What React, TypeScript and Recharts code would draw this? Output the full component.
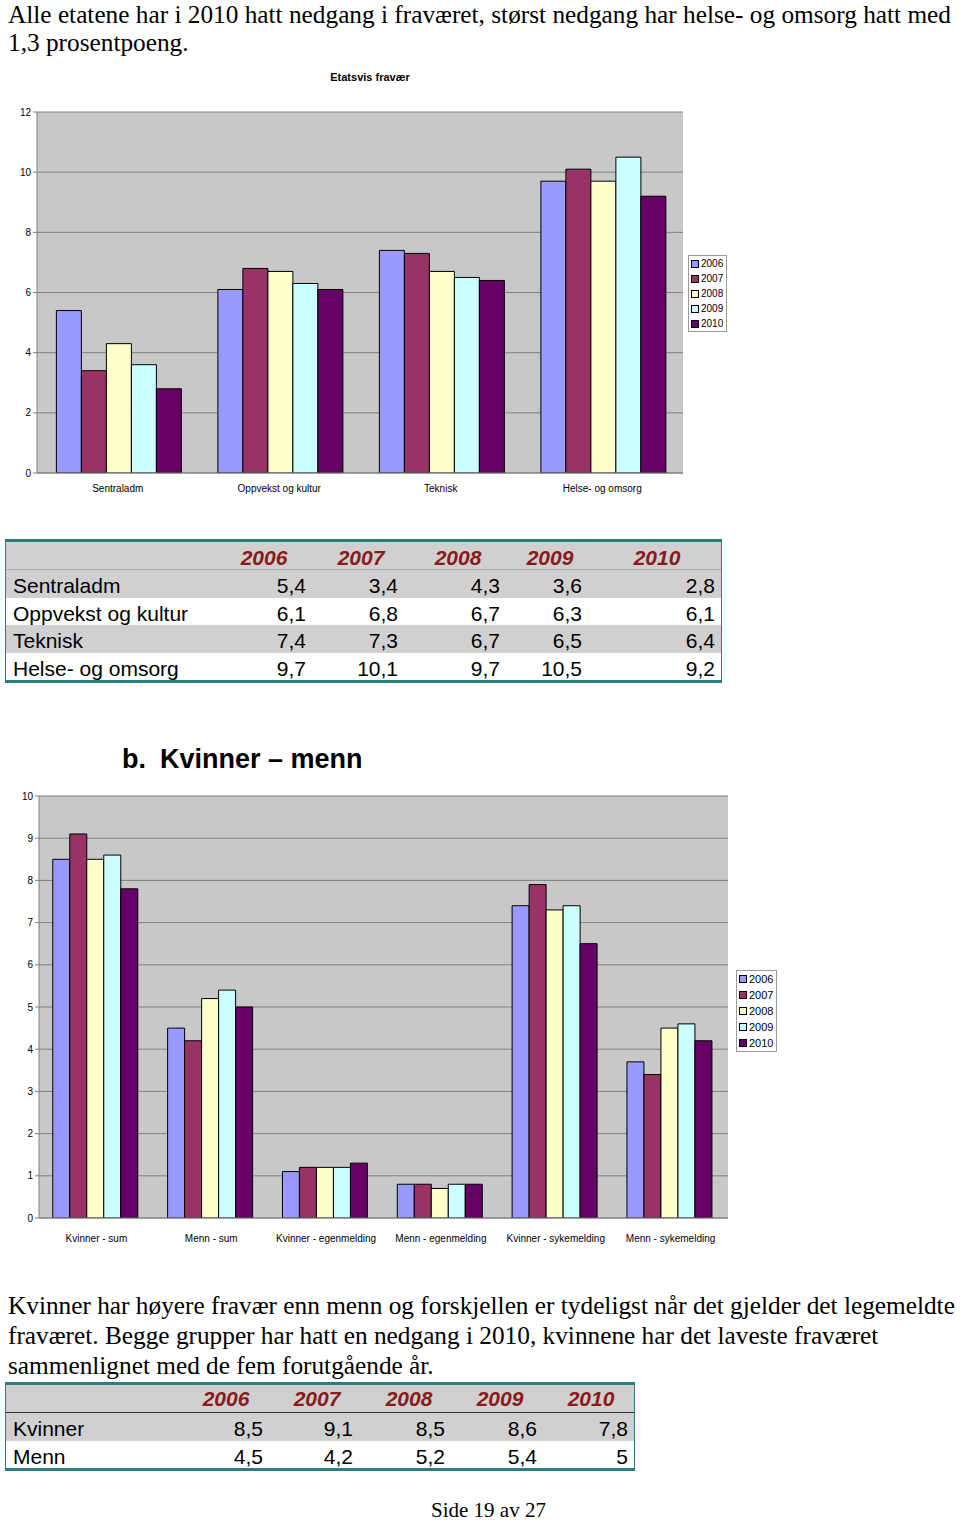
import React from "react";
import { Bar, BarChart, CartesianGrid, Legend, XAxis, YAxis } from "recharts";

const YEARS = ["2006", "2007", "2008", "2009", "2010"];
const COLORS = ["#9999FF", "#993366", "#FFFFCC", "#CCFFFF", "#660066"];

// Etatsvis fravær
const ETATER = ["Sentraladm", "Oppvekst og kultur", "Teknisk", "Helse- og omsorg"];
const ETAT_2006 = [5.4, 6.1, 7.4, 9.7];
const ETAT_2007 = [3.4, 6.8, 7.3, 10.1];
const ETAT_2008 = [4.3, 6.7, 6.7, 9.7];
const ETAT_2009 = [3.6, 6.3, 6.5, 10.5];
const ETAT_2010 = [2.8, 6.1, 6.4, 9.2];
const ETAT_TICKS = [0, 2, 4, 6, 8, 10, 12];

// Kvinner – menn
const KJONN = [
  "Kvinner - sum",
  "Menn - sum",
  "Kvinner - egenmelding",
  "Menn - egenmelding",
  "Kvinner - sykemelding",
  "Menn - sykemelding",
];
const KJONN_2006 = [8.5, 4.5, 1.1, 0.8, 7.4, 3.7];
const KJONN_2007 = [9.1, 4.2, 1.2, 0.8, 7.9, 3.4];
const KJONN_2008 = [8.5, 5.2, 1.2, 0.7, 7.3, 4.5];
const KJONN_2009 = [8.6, 5.4, 1.2, 0.8, 7.4, 4.6];
const KJONN_2010 = [7.8, 5.0, 1.3, 0.8, 6.5, 4.2];
const KJONN_TICKS = [0, 1, 2, 3, 4, 5, 6, 7, 8, 9, 10];
const KJONN_TABLE_ROWS = ["Kvinner", "Menn"];

const SANS = '"Liberation Sans", Arial, sans-serif';
const SERIF = '"Liberation Serif", "Times New Roman", serif';
const TEAL = "#2E7C7C";
const ROW_GRAY = "#D0D0D0";
const YEAR_RED = "#8B1A1A";

const etatSeries = [ETAT_2006, ETAT_2007, ETAT_2008, ETAT_2009, ETAT_2010];
const kjonnSeries = [KJONN_2006, KJONN_2007, KJONN_2008, KJONN_2009, KJONN_2010];

const etatData = ETATER.map((name, i) => {
  const row: Record<string, string | number> = { name };
  YEARS.forEach((y, k) => (row[y] = etatSeries[k][i]));
  return row;
});
const kjonnData = KJONN.map((name, i) => {
  const row: Record<string, string | number> = { name };
  YEARS.forEach((y, k) => (row[y] = kjonnSeries[k][i]));
  return row;
});

const fmt = (v: number) => String(v).replace(".", ",");

function LegendBox({ rowH, fontSize }: { rowH: number; fontSize: number }) {
  return (
    <div
      style={{
        border: "1px solid #9a9a9a",
        background: "#fff",
        padding: "0 3px 0 2px",
        fontFamily: SANS,
        fontSize,
        color: "#000",
      }}
    >
      {YEARS.map((y, i) => (
        <div key={y} style={{ display: "flex", alignItems: "center", height: rowH }}>
          <span
            style={{
              display: "inline-block",
              width: 6,
              height: 6,
              border: "1px solid #000",
              background: COLORS[i],
              marginRight: 2,
            }}
          />
          {y}
        </div>
      ))}
    </div>
  );
}

function GroupedBars({
  data,
  width,
  height,
  margin,
  yWidth,
  domain,
  ticks,
  tickMargin,
  legendPos,
  rowH,
  legendFont,
}: any) {
  const tickStyle = { fill: "#000", fontSize: 10, fontFamily: SANS };
  return (
    <BarChart
      width={width}
      height={height}
      data={data}
      margin={margin}
      barCategoryGap="12%"
      barGap={0}
    >
      <CartesianGrid vertical={false} stroke="#808080" fill="#C8C8C8" fillOpacity={1} />
      <XAxis
        dataKey="name"
        tickLine={false}
        axisLine={{ stroke: "#808080" }}
        tick={tickStyle}
        tickMargin={tickMargin}
        interval={0}
        height={30}
      />
      <YAxis
        domain={domain}
        ticks={ticks}
        width={yWidth}
        tickSize={4}
        tickMargin={2}
        tickLine={{ stroke: "#808080" }}
        axisLine={{ stroke: "#808080" }}
        tick={tickStyle}
        allowDataOverflow
      />
      <YAxis
        yAxisId="frame"
        orientation="right"
        width={0}
        tick={false}
        tickLine={false}
        axisLine={{ stroke: "#808080" }}
      />
      <Legend
        layout="horizontal"
        align="center"
        verticalAlign="middle"
        wrapperStyle={{ left: legendPos[0], top: legendPos[1], width: "auto" }}
        content={() => <LegendBox rowH={rowH} fontSize={legendFont} />}
      />
      {YEARS.map((y, i) => (
        <Bar
          key={y}
          dataKey={y}
          fill={COLORS[i]}
          stroke="#000"
          strokeWidth={1}
          isAnimationActive={false}
        />
      ))}
    </BarChart>
  );
}

function DataTable({
  top,
  width,
  labels,
  values,
  yearCenters,
  valueRights,
  headerLine,
  yearShift,
}: {
  top: number;
  width: number;
  labels: string[];
  values: number[][];
  yearCenters: number[];
  valueRights: number[];
  headerLine: string;
  yearShift: number;
}) {
  const rowH = 27.5;
  const headH = 28;
  const cell = (t: number): React.CSSProperties => ({
    position: "absolute",
    top: t + 3,
    lineHeight: "27px",
    whiteSpace: "nowrap",
    fontFamily: SANS,
    fontSize: 21,
  });
  return (
    <div
      style={{
        position: "absolute",
        left: 5,
        top,
        width,
        height: 3 + headH + labels.length * rowH + 3,
        borderLeft: `1px solid ${TEAL}`,
        borderRight: `1px solid ${TEAL}`,
        boxSizing: "border-box",
      }}
    >
      <div style={{ position: "absolute", left: 0, right: 0, top: 0, height: 3, background: TEAL }} />
      <div
        style={{
          position: "absolute",
          left: 0,
          right: 0,
          top: 3,
          height: headH,
          background: ROW_GRAY,
          borderBottom: `1px solid ${headerLine}`,
          boxSizing: "border-box",
        }}
      />
      {YEARS.map((y, k) => (
        <div
          key={y}
          style={{
            ...cell(yearShift),
            left: yearCenters[k] - 5 - 40,
            width: 80,
            textAlign: "center",
            fontWeight: "bold",
            fontStyle: "italic",
            color: YEAR_RED,
          }}
        >
          {y}
        </div>
      ))}
      {labels.map((lab, r) => {
        const t = 3 + headH + r * rowH;
        return (
          <React.Fragment key={lab}>
            <div
              style={{
                position: "absolute",
                left: 0,
                right: 0,
                top: t,
                height: rowH,
                background: r % 2 === 0 ? ROW_GRAY : "#fff",
              }}
            />
            <div style={{ ...cell(t - 1), left: 7 }}>{lab}</div>
            {values[r].map((v, k) => (
              <div
                key={k}
                style={{ ...cell(t - 1), left: valueRights[k] - 5 - 100, width: 100, textAlign: "right" }}
              >
                {fmt(v)}
              </div>
            ))}
          </React.Fragment>
        );
      })}
      <div
        style={{
          position: "absolute",
          left: 0,
          right: 0,
          top: 3 + headH + labels.length * rowH,
          height: 3,
          background: TEAL,
        }}
      />
    </div>
  );
}

export default function App() {
  const etatTable = ETATER.map((_, i) => etatSeries.map((s) => s[i]));
  const kjonnTable = KJONN_TABLE_ROWS.map((_, i) => kjonnSeries.map((s) => s[i]));
  const serifText: React.CSSProperties = {
    position: "absolute",
    left: 8,
    fontFamily: SERIF,
    fontSize: 25.3,
    lineHeight: "30px",
    whiteSpace: "nowrap",
    color: "#000",
  };
  const heading: React.CSSProperties = {
    position: "absolute",
    top: 746,
    fontFamily: SANS,
    fontSize: 27,
    lineHeight: "27px",
    fontWeight: "bold",
    whiteSpace: "nowrap",
  };
  return (
    <div
      style={{
        position: "absolute",
        left: 0,
        top: 0,
        width: 960,
        height: 1523,
        background: "#fff",
        overflow: "hidden",
      }}
    >
      <div style={{ ...serifText, top: 0.6, lineHeight: "27px" }}>
        Alle etatene har i 2010 hatt nedgang i fraværet, størst nedgang har helse- og omsorg hatt med
      </div>
      <div style={{ ...serifText, top: 27 }}>1,3 prosentpoeng.</div>

      <div
        style={{
          position: "absolute",
          left: 270,
          width: 200,
          top: 71,
          textAlign: "center",
          fontFamily: SANS,
          fontSize: 11,
          fontWeight: "bold",
        }}
      >
        Etatsvis fravær
      </div>
      <div style={{ position: "absolute", left: 0, top: 60 }}>
        <GroupedBars
          data={etatData}
          width={740}
          height={450}
          margin={{ top: 52, right: 57, bottom: 7, left: 0 }}
          yWidth={37}
          domain={[0, 12]}
          ticks={ETAT_TICKS}
          tickMargin={6}
          legendPos={[688, 195]}
          rowH={15}
          legendFont={10}
        />
      </div>

      <DataTable
        top={539}
        width={717}
        labels={ETATER}
        values={etatTable}
        yearCenters={[263, 360, 457, 549, 656]}
        valueRights={[305, 397, 499, 581, 714]}
        headerLine="#a8a8a8"
        yearShift={2}
      />

      <div style={{ ...heading, left: 122 }}>b.</div>
      <div style={{ ...heading, left: 160 }}>Kvinner – menn</div>

      <div style={{ position: "absolute", left: 0, top: 785 }}>
        <GroupedBars
          data={kjonnData}
          width={785}
          height={470}
          margin={{ top: 11, right: 57, bottom: 7, left: 0 }}
          yWidth={39}
          domain={[0, 10]}
          ticks={KJONN_TICKS}
          tickMargin={11}
          legendPos={[736, 185]}
          rowH={16}
          legendFont={11}
        />
      </div>

      <div style={{ ...serifText, top: 1289.5 }}>
        Kvinner har høyere fravær enn menn og forskjellen er tydeligst når det gjelder det legemeldte
        <br />
        fraværet. Begge grupper har hatt en nedgang i 2010, kvinnene har det laveste fraværet
        <br />
        sammenlignet med de fem forutgående år.
      </div>

      <DataTable
        top={1382}
        width={630}
        labels={KJONN_TABLE_ROWS}
        values={kjonnTable}
        yearCenters={[225, 316, 408, 499, 590]}
        valueRights={[262, 352, 444, 536, 627]}
        headerLine="#333"
        yearShift={0}
      />

      <div
        style={{
          position: "absolute",
          left: 431,
          top: 1500,
          fontFamily: SERIF,
          fontSize: 21,
          lineHeight: "21px",
          whiteSpace: "nowrap",
        }}
      >
        Side 19 av 27
      </div>
    </div>
  );
}
